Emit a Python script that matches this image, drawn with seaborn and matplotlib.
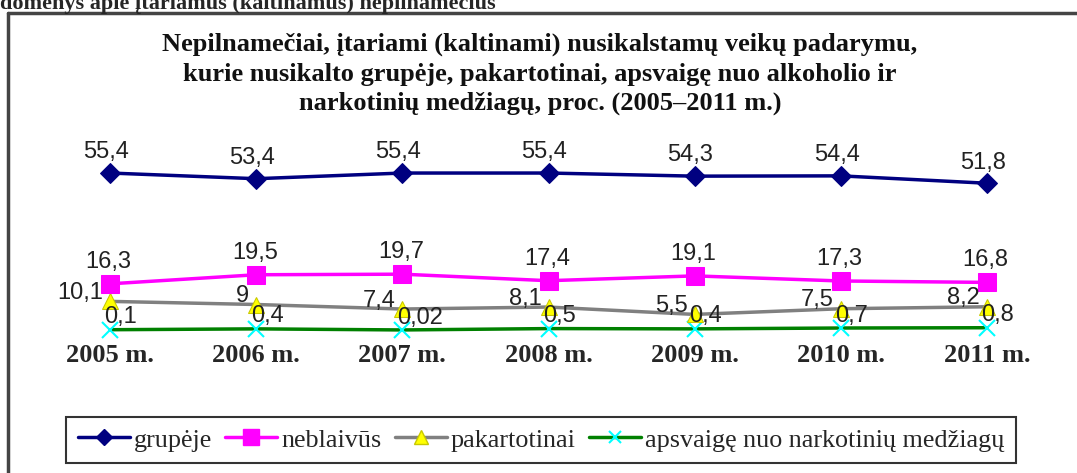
import matplotlib
matplotlib.use("Agg")
import matplotlib.pyplot as plt
import seaborn as sns
import pandas as pd
from matplotlib.lines import Line2D

years = ["2005 m.", "2006 m.", "2007 m.", "2008 m.", "2009 m.", "2010 m.", "2011 m."]
grupeje = [55.4, 53.4, 55.4, 55.4, 54.3, 54.4, 51.8]
neblaivus = [16.3, 19.5, 19.7, 17.4, 19.1, 17.3, 16.8]
pakartotinai = [10.1, 9, 7.4, 8.1, 5.5, 7.5, 8.2]
narkotiniu = [0.1, 0.4, 0.02, 0.5, 0.4, 0.7, 0.8]
labels = ["grupėje", "neblaivūs", "pakartotinai", "apsvaigę nuo narkotinių medžiagų"]

sns.set_style("white")
plt.rcParams["font.family"] = ["Liberation Sans", "DejaVu Sans"]

fig = plt.figure(figsize=(10.77, 4.73), dpi=100)
W, H = 1077, 473
ax = fig.add_axes([37 / W, (H - 330) / H, 1023 / W, 170 / H])

x = list(range(len(years)))

def fmt(v):
    s = ("%g" % v)
    return s.replace(".", ",")

sns.lineplot(x=x, y=narkotiniu, ax=ax, color="#008000", linewidth=2.5,
             marker="x", markersize=11, markeredgecolor="#00FFFF", markeredgewidth=1.5,
             clip_on=False, zorder=2)
sns.lineplot(x=x, y=pakartotinai, ax=ax, color="#808080", linewidth=2.5,
             marker="^", markersize=12, markerfacecolor="#FFFF00", markeredgecolor="#C8C800",
             clip_on=False, zorder=3)
sns.lineplot(x=x, y=neblaivus, ax=ax, color="#FF00FF", linewidth=2.5,
             marker="s", markersize=13, markerfacecolor="#FF00FF", markeredgecolor="#FF00FF",
             clip_on=False, zorder=4)
sns.lineplot(x=x, y=grupeje, ax=ax, color="#000080", linewidth=2.5,
             marker="D", markersize=10, markerfacecolor="#000080", markeredgecolor="#000080",
             clip_on=False, zorder=5)

lab_kw = dict(textcoords="offset points", fontsize=17, color="#222222", zorder=6)
for i in x:
    ax.annotate(fmt(grupeje[i]), (i, grupeje[i]), xytext=(-3, 7), ha="center", va="bottom", **lab_kw)
    ax.annotate(fmt(neblaivus[i]), (i, neblaivus[i]), xytext=(-1, 8), ha="center", va="bottom", **lab_kw)
    ax.annotate(fmt(pakartotinai[i]), (i, pakartotinai[i]), xytext=(-5, 6), ha="right", va="center", **lab_kw)
    ax.annotate(fmt(narkotiniu[i]), (i, narkotiniu[i]), xytext=(-4, 1), ha="left", va="bottom", **lab_kw)

ax.set_xlim(-0.5, 6.5)
ax.set_ylim(0, 60)
ax.set_yticks([])
ax.set_xticks(x)
ax.set_xticklabels(years, fontsize=19, fontweight="bold", family="Liberation Serif")
ax.tick_params(axis="x", length=0, pad=10)
for s in ax.spines.values():
    s.set_visible(False)

fig.text(540 / W, 1 - 33 / H,
         "Nepilnamečiai, įtariami (kaltinami) nusikalstamų veikų padarymu,\n"
         "kurie nusikalto grupėje, pakartotinai, apsvaigę nuo alkoholio ir\n"
         "narkotinių medžiagų, proc. (2005–2011 m.)",
         ha="center", va="top", fontsize=19, fontweight="bold", family="Liberation Serif",
         linespacing=1.35, color="#111111")

fig.text(0, 1 + 6 / H, "domenys apie įtariamus (kaltinamus) nepilnamečius",
         ha="left", va="top", fontsize=16, fontweight="bold", family="Liberation Serif")

# outer frame (left and top edges visible)
fig.add_artist(Line2D([8 / W, 8 / W], [0, 1 - 13 / H], color="#444444", linewidth=2.5))
fig.add_artist(Line2D([8 / W, 1], [1 - 13 / H, 1 - 13 / H], color="#444444", linewidth=2.5))

handles = [
    Line2D([], [], color="#000080", lw=2.5, marker="D", ms=8, mfc="#000080", mec="#000080"),
    Line2D([], [], color="#FF00FF", lw=2.5, marker="s", ms=11, mfc="#FF00FF", mec="#FF00FF"),
    Line2D([], [], color="#808080", lw=2.5, marker="^", ms=10, mfc="#FFFF00", mec="#C8C800"),
    Line2D([], [], color="#008000", lw=2.5, marker="x", ms=9, mec="#00FFFF", mew=1.5),
]
leg = fig.legend(handles, labels, loc="center", bbox_to_anchor=(541 / W, 1 - 440 / H), ncol=4,
                 prop={"family": "Liberation Serif", "size": 18.8}, frameon=True, fancybox=False,
                 edgecolor="black", handlelength=2.0, handletextpad=0.15, columnspacing=0.5,
                 borderpad=0.45, borderaxespad=0)
leg.get_frame().set_linewidth(1.5)

fig.savefig("out.png", dpi=100)
